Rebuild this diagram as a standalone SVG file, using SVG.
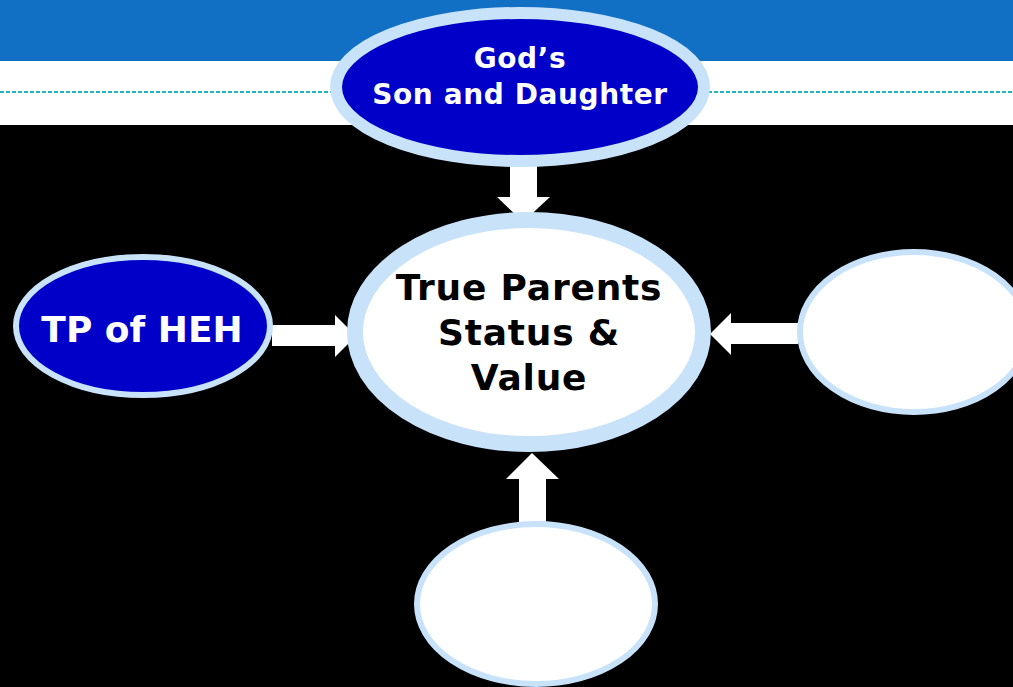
<svg xmlns="http://www.w3.org/2000/svg" width="1013" height="687" viewBox="0 0 1013 687">
<style>
.dark{fill:#0000C8;stroke:#C8E2FA}
.light{fill:#FFFFFF;stroke:#C8E2FA}
.arrow{fill:#FFFFFF}
text{font-family:"DejaVu Sans","Verdana",sans-serif;font-weight:bold;text-anchor:middle}
.w{fill:#FFFFFF}
.b{fill:#000000}
</style>
<rect x="0" y="0" width="1013" height="687" fill="#000000"/>
<rect x="0" y="0" width="1013" height="61" fill="#1170C4"/>
<rect x="0" y="61" width="1013" height="64" fill="#FFFFFF"/>
<line x1="0" y1="92" x2="1013" y2="92" stroke="#1FB5C3" stroke-width="2" stroke-dasharray="4,2"/>
<g id="connectors">
<polygon class="arrow" points="510,166 537,166 537,197 550,197 523,222 497,197 510,197"/>
<polygon class="arrow" points="272,325 335,325 335,315 356,336 335,357 335,346 272,346"/>
<polygon class="arrow" points="798,323 731,323 731,313 710,334 731,355 731,344 798,344"/>
<polygon class="arrow" points="519,523 546,523 546,479 559,479 532,453 506,479 519,479"/>
</g>
<g id="node-top">
<ellipse class="dark" cx="520" cy="87" rx="184" ry="74" stroke-width="12"/>
<text class="w" x="520" y="68" font-size="28" letter-spacing="0.6">God’s</text>
<text class="w" x="520" y="104" font-size="28" letter-spacing="0.6">Son and Daughter</text>
</g>
<g id="node-center">
<ellipse class="light" cx="529" cy="332" rx="174" ry="112" stroke-width="16"/>
<text class="b" x="529" y="300" font-size="36" letter-spacing="0.8">True Parents</text>
<text class="b" x="529" y="345" font-size="36" letter-spacing="0.8">Status &amp;</text>
<text class="b" x="529" y="390" font-size="36" letter-spacing="0.8">Value</text>
</g>
<g id="node-left">
<ellipse class="dark" cx="143" cy="326" rx="127" ry="69" stroke-width="6"/>
<text class="w" x="142" y="342" font-size="36">TP of HEH</text>
</g>
<g id="node-right">
<ellipse class="light" cx="914" cy="332" rx="114" ry="80" stroke-width="6"/>
</g>
<g id="node-bottom">
<ellipse class="light" cx="536" cy="604" rx="119" ry="80" stroke-width="6"/>
</g>
</svg>
